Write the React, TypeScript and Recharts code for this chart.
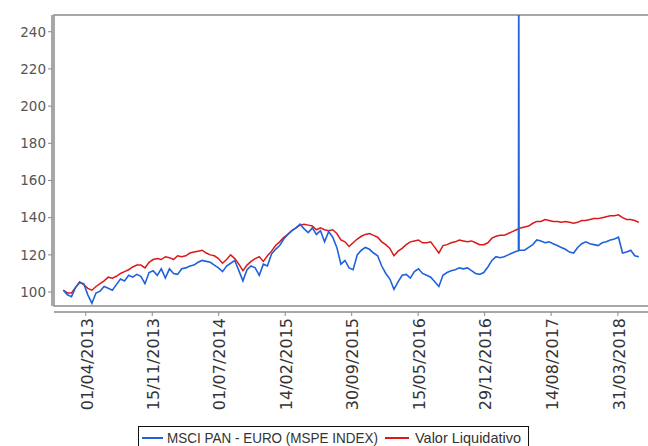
import React from 'react';
import { LineChart, Line, XAxis, YAxis, ReferenceArea, Legend } from 'recharts';

const dates = [
  '2013-01-14','2013-01-28','2013-02-11','2013-02-25','2013-03-11','2013-03-25','2013-04-08','2013-04-22','2013-05-06','2013-05-20',
  '2013-06-03','2013-06-17','2013-07-01','2013-07-15','2013-07-29','2013-08-12','2013-08-26','2013-09-09','2013-09-23','2013-10-07',
  '2013-10-21','2013-11-04','2013-11-18','2013-12-02','2013-12-16','2013-12-30',
  '2014-01-13','2014-01-27','2014-02-10','2014-02-24','2014-03-10','2014-03-24','2014-04-07','2014-04-21','2014-05-05','2014-05-19',
  '2014-06-02','2014-06-16','2014-06-30','2014-07-14','2014-07-28','2014-08-11','2014-08-25','2014-09-08','2014-09-22','2014-10-06',
  '2014-10-20','2014-11-03','2014-11-17','2014-12-01','2014-12-15','2014-12-29',
  '2015-01-12','2015-01-26','2015-02-09','2015-02-23','2015-03-09','2015-03-23','2015-04-06','2015-04-20','2015-05-04','2015-05-18',
  '2015-06-01','2015-06-15','2015-06-29','2015-07-13','2015-07-27','2015-08-10','2015-08-24','2015-09-07','2015-09-21','2015-10-05',
  '2015-10-19','2015-11-02','2015-11-16','2015-11-30','2015-12-14','2015-12-28',
  '2016-01-11','2016-01-25','2016-02-08','2016-02-22','2016-03-07','2016-03-21','2016-04-04','2016-04-18','2016-05-02','2016-05-16',
  '2016-05-30','2016-06-13','2016-06-27','2016-07-11','2016-07-25','2016-08-08','2016-08-22','2016-09-05','2016-09-19','2016-10-03',
  '2016-10-17','2016-10-31','2016-11-14','2016-11-28','2016-12-12','2016-12-26',
  '2017-01-09','2017-01-23','2017-02-06','2017-02-20','2017-03-06','2017-03-20','2017-04-03','2017-04-17',
  '2017-04-24','2017-04-25','2017-04-26','2017-05-01',
  '2017-05-15','2017-05-29','2017-06-12','2017-06-26','2017-07-10','2017-07-24','2017-08-07','2017-08-21','2017-09-04','2017-09-18',
  '2017-10-02','2017-10-16','2017-10-30','2017-11-13','2017-11-27','2017-12-11','2017-12-25',
  '2018-01-08','2018-01-22','2018-02-05','2018-02-19','2018-03-05','2018-03-19','2018-04-02','2018-04-16','2018-04-30','2018-05-14',
  '2018-05-28','2018-06-11',
];

const msci = [
  101, 98.5, 97.5, 102.5, 105, 104.5, 98.5, 94, 99.5, 100.5,
  103, 102, 101, 104, 107, 106, 109, 108, 109.5, 108.5,
  104.5, 110.5, 111.5, 109, 112.5, 107.5, 112.5, 110, 109.5, 112.5,
  113, 114, 114.5, 116, 117, 116.5, 116, 114.5, 113, 111,
  114, 115.5, 117, 111.5, 106, 112, 114, 113, 109, 115,
  114, 120.5, 123, 125, 128.5, 131, 133, 134.5, 136.5, 134,
  132, 134.5, 131, 133, 127, 132.5, 129.5, 124, 115, 117,
  113, 112, 120, 122.5, 124, 123, 121, 119.5, 114, 110,
  107, 101.5, 105.5, 109, 109.5, 107.5, 111, 112.5, 110, 109,
  108, 105.5, 103, 109, 110.5, 111.5, 112, 113, 112.5, 113,
  111.5, 110, 109.5, 110.5, 113.5, 117, 119, 118.5, 119, 120, 121, 122,
  122.2, 300, 122.4,
  122.5, 122.5, 124, 125.5, 128, 127.5, 126.5, 127, 126, 125,
  124, 123, 121.5, 121, 124, 126, 127, 126, 125.5, 125,
  126.5, 127, 128, 128.5, 129.5, 121, 121.5, 122.5, 119.5, 119,
];

const valor = [
  101, 99.5, 99.5, 102.5, 105.5, 104, 102, 101, 103, 104.5,
  106, 108, 107.5, 108.5, 110, 111, 112, 113.5, 114.5, 114.5,
  113, 116, 117.5, 118, 117.5, 119, 118.5, 117.5, 119.5, 119,
  119.5, 121, 121.5, 122, 122.5, 121, 120, 119.5, 118, 115.5,
  117.5, 120, 118, 115, 111.5, 114.5, 116.5, 118, 119, 116.5,
  119.5, 122, 125, 127, 129.5, 131, 133, 134.5, 136, 136.5,
  136, 135.5, 133.5, 134.5, 133.5, 133, 133.5, 131.5, 128, 127,
  124.5, 126.5, 128.5, 130, 131, 131.5, 130.5, 129.5, 127, 125.5,
  123.5, 119.5, 122, 123.5, 125.5, 127, 127.5, 128, 126.5, 126.5,
  127, 124, 121, 125, 125.5, 126.5, 127, 128, 127.5, 127,
  127.5, 126.5, 125.5, 125.5, 126.5, 129, 130, 130.5, 130.5, 131.5, 132.5, 133.5,
  134, 134, 134.2,
  134.5, 135, 135.5, 137, 138, 138, 139, 138.5, 138, 138,
  137.5, 138, 137.5, 137, 137.5, 138.5, 138.5, 139, 139.5, 139.5,
  140, 140.5, 141, 141, 141.5, 140, 139, 139, 138.5, 137.5,
];

const tickDates = ['2013-04-01','2013-11-15','2014-07-01','2015-02-14','2015-09-30','2016-05-15','2016-12-29','2017-08-14','2018-03-31'];
const yTicks = [100, 120, 140, 160, 180, 200, 220, 240];
const xDomainDates = ['2012-12-13', '2018-07-26'];
const yDomain: [number, number] = [92.5, 249];

const seriesNames = ['MSCI PAN - EURO (MSPE INDEX)', 'Valor Liquidativo'];
const BLUE = '#1f62dc';
const RED = '#dc1818';

const toMs = (s: string) => new Date(s + 'T00:00:00Z').getTime();
const fmt = (ms: number) => {
  const d = new Date(ms);
  const dd = String(d.getUTCDate()).padStart(2, '0');
  const mm = String(d.getUTCMonth() + 1).padStart(2, '0');
  return `${dd}/${mm}/${d.getUTCFullYear()}`;
};

const data = dates.map((d, i) => ({ t: toMs(d), msci: msci[i], valor: valor[i] }));
const xTicks = tickDates.map(toMs);
const xDomain = xDomainDates.map(toMs);

const XTick = (props: any) => {
  const { x, y, payload } = props;
  return (
    <g transform={`translate(${x + 1},${y + 6})`}>
      <text transform="rotate(-90)" textAnchor="end" dy="0.36em" fontFamily="DejaVu Sans" fontSize={16} fill="#333">
        {fmt(payload.value)}
      </text>
    </g>
  );
};

const LEGEND_FONT = "'Liberation Sans Narrow','Arial Narrow','Liberation Sans',Arial";

const renderLegend = () => (
  <svg width={392} height={24} style={{ display: 'block' }}>
    <rect x={0.5} y={0.5} width={390} height={30} fill="#fff" stroke="#111" />
    <line x1={4} x2={25} y1={12} y2={12} stroke={BLUE} strokeWidth={2} />
    <text x={29} y={17} fontFamily={LEGEND_FONT} fontSize={15} fill="#333" textLength={211} lengthAdjust="spacingAndGlyphs">
      {seriesNames[0]}
    </text>
    <line x1={247} x2={271} y1={12} y2={12} stroke={RED} strokeWidth={2} />
    <text x={277} y={17} fontFamily={LEGEND_FONT} fontSize={15} fill="#333" textLength={106} lengthAdjust="spacingAndGlyphs">
      {seriesNames[1]}
    </text>
  </svg>
);

export default function App() {
  return (
    <div style={{ position: 'absolute', left: 0, top: 0, width: 648, height: 446, overflow: 'hidden', background: '#fff' }}>
      <LineChart width={652} height={446} data={data} margin={{ top: 15, right: 0, bottom: 0, left: 0 }}>
        <ReferenceArea x1={xDomain[0]} x2={xDomain[1]} y1={yDomain[0]} y2={yDomain[1]} fill="none" stroke="#8a8a8a" strokeWidth={1.5} ifOverflow="visible" />
        <XAxis
          dataKey="t"
          type="number"
          domain={xDomain}
          ticks={xTicks}
          allowDataOverflow
          height={140}
          tickSize={4}
          axisLine={{ stroke: '#8a8a8a', strokeWidth: 1.5, transform: 'translate(0,6)' }}
          tickLine={{ stroke: '#8a8a8a', transform: 'translate(0,6)' }}
          tick={<XTick />}
          interval={0}
        />
        <YAxis
          type="number"
          domain={yDomain}
          ticks={yTicks}
          allowDataOverflow
          width={54}
          tickSize={4}
          tickMargin={4}
          axisLine={{ stroke: '#8a8a8a', strokeWidth: 1.5, transform: 'translate(-2,0)' }}
          tickLine={{ stroke: '#8a8a8a', transform: 'translate(-2,0)' }}
          tick={{ fontFamily: 'DejaVu Sans', fontSize: 13.5, fill: '#555' }}
          interval={0}
        />
        <Legend
          layout="horizontal"
          verticalAlign="middle"
          align="center"
          content={renderLegend}
          wrapperStyle={{ position: 'absolute', left: 138, top: 426, width: 392, height: 24, right: 'auto', bottom: 'auto' }}
        />
        <Line type="linear" dataKey="valor" name={seriesNames[1]} stroke={RED} strokeWidth={1.5} dot={false} isAnimationActive={false} />
        <Line type="linear" dataKey="msci" name={seriesNames[0]} stroke={BLUE} strokeWidth={1.6} dot={false} isAnimationActive={false} />
      </LineChart>
    </div>
  );
}
